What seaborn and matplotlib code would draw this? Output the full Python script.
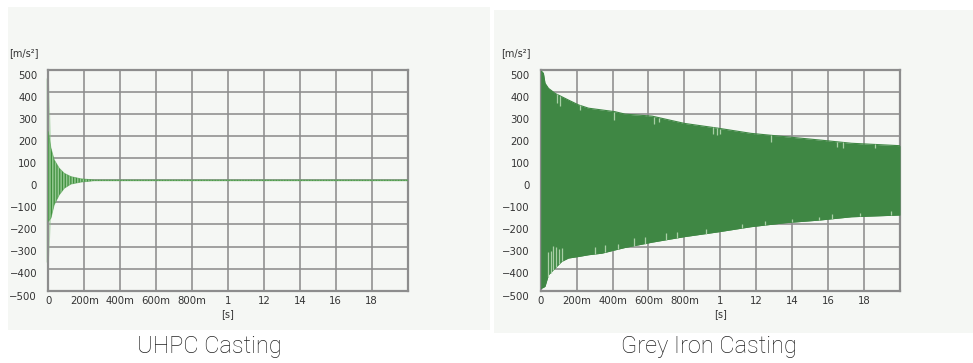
import numpy as np
import pandas as pd
import matplotlib
matplotlib.use("Agg")
import matplotlib.pyplot as plt
from matplotlib.patches import Rectangle
from matplotlib.transforms import ScaledTranslation
import seaborn as sns

sns.set_theme(style="white")
plt.rcParams["font.family"] = ["DejaVu Sans"]
plt.rcParams["hatch.linewidth"] = 0.9

# ---- data -------------------------------------------------------------
# UHPC casting: decay envelope of the acceleration signal [m/s^2] vs time [s]
uhpc_t = [0.0, 0.015, 0.033, 0.061, 0.089, 0.126, 0.182, 0.256, 0.40, 0.70, 1.0, 1.5, 2.0]
uhpc_upper = [221, 146, 93, 55, 32, 17, 7, 2, 2, 2, 2, 2, 2]
uhpc_lower = [-186, -171, -111, -66, -36, -17, -8, -2, -2, -2, -2, -2, -2]
# initial impact spike just before the trigger point
uhpc_spike_t = [-0.013, 0.0, 0.012]
uhpc_spike_upper = [464, 464, 200]
uhpc_spike_lower = [-370, -370, -180]

# Grey iron casting: decay envelope
iron_t = [0.0, 0.006, 0.015, 0.024, 0.043, 0.08, 0.117, 0.154, 0.21, 0.266, 0.34,
          0.414, 0.47, 0.62, 0.80, 0.99, 1.17, 1.36, 1.55, 1.73, 2.0]
iron_upper = [495, 493, 485, 440, 417, 394, 379, 364, 342, 327, 319,
              311, 300, 291, 258, 236, 213, 198, 183, 168, 157]
iron_lower = [-490, -488, -485, -480, -428, -397, -367, -352, -345, -337, -330,
              -315, -304, -280, -255, -233, -210, -192, -180, -165, -157]
# short dips into the band (individual low-amplitude cycles)
iron_notch_up_t = [0.09, 0.11, 0.22, 0.41, 0.63, 0.66, 0.96, 0.98, 1.0, 1.28, 1.65, 1.68, 1.86]
iron_notch_up_d = [40, 45, 20, 40, 35, 20, 30, 30, 25, 30, 25, 25, 15]
iron_notch_lo_t = [0.04, 0.055, 0.07, 0.085, 0.10, 0.12, 0.30, 0.36, 0.43, 0.52, 0.58,
                   0.70, 0.76, 0.92, 1.12, 1.25, 1.40, 1.55, 1.62, 1.78, 1.95]
iron_notch_lo_d = [110, 100, 110, 90, 70, 60, 30, 35, 25, 35, 30,
                   30, 25, 20, 20, 20, 15, 15, 20, 15, 20]

y_ticks = [500, 400, 300, 200, 100, 0, -100, -200, -300, -400, -500]
x_ticks = [0.0, 0.2, 0.4, 0.6, 0.8, 1.0, 1.2, 1.4, 1.6, 1.8, 2.0]
x_labels = ["0", "200m", "400m", "600m", "800m", "1", "12", "14", "16", "18", ""]
titles = ["UHPC Casting", "Grey Iron Casting"]

# ---- figure -----------------------------------------------------------
W, H = 973, 363
fig = plt.figure(figsize=(W / 100, H / 100), dpi=100)
fig.patch.set_facecolor("white")

panel_bg = "#f5f7f4"
fig.add_artist(Rectangle((8 / W, 1 - 330 / H), 482 / W, 323 / H,
                         transform=fig.transFigure, facecolor=panel_bg,
                         edgecolor="none", zorder=0))
fig.add_artist(Rectangle((494 / W, 1 - 333 / H), 479 / W, 323 / H,
                         transform=fig.transFigure, facecolor=panel_bg,
                         edgecolor="none", zorder=0))

grid_col = "#8d8d8d"
txt_col = "#333333"


def make_axes(left_px):
    ax = fig.add_axes([left_px / W, 1 - 290.7 / H, 359.3 / W, 220.7 / H])
    ax.set_facecolor(panel_bg)
    ax.set_xlim(0, 2.0)
    ax.set_ylim(-500, 500)
    ax.set_xticks(x_ticks)
    ax.set_xticklabels(x_labels)
    ax.set_yticks(y_ticks)
    ax.set_yticklabels([str(v).replace("-", "\u2212") for v in y_ticks])
    ax.grid(True, color=grid_col, linewidth=1.15)
    ax.set_axisbelow(True)
    for s in ax.spines.values():
        s.set_color(grid_col)
        s.set_linewidth(1.6)
    ax.tick_params(axis="both", length=0, labelsize=7.3, labelcolor=txt_col)
    ax.tick_params(axis="x", pad=3.5)
    ax.tick_params(axis="y", pad=8)
    off = ScaledTranslation(0, -3.5 / 72, fig.dpi_scale_trans)
    for lab in ax.get_yticklabels():
        lab.set_transform(lab.get_transform() + off)
    ax.text(1.0, -0.085, "[s]", transform=ax.get_xaxis_transform(),
            ha="center", va="top", fontsize=7, color=txt_col)
    ax.text(-0.109, 1.076, "[m/s\u00b2]", transform=ax.transAxes,
            ha="left", va="center", fontsize=7, color=txt_col)
    return ax


# UHPC panel
ax1 = make_axes(48.3)
spike = pd.DataFrame({"t": uhpc_spike_t, "up": uhpc_spike_upper, "lo": uhpc_spike_lower})
ax1.fill_between(spike["t"], spike["lo"], spike["up"], color="#8cc68a",
                 alpha=0.5, linewidth=0, clip_on=False, zorder=2)
uhpc = pd.DataFrame({"t": uhpc_t, "up": uhpc_upper, "lo": uhpc_lower})
ax1.fill_between(uhpc["t"], uhpc["lo"], uhpc["up"], facecolor="#93c890",
                 edgecolor="#3e8f3d", hatch="||||||", linewidth=0, zorder=3)
sns.lineplot(data=uhpc, x="t", y="up", ax=ax1, color="#4f9d4c", linewidth=0.6,
             alpha=0.6, zorder=3)
sns.lineplot(data=uhpc, x="t", y="lo", ax=ax1, color="#4f9d4c", linewidth=0.6,
             alpha=0.6, zorder=3)

# Grey iron panel
ax2 = make_axes(540.7)
iron = pd.DataFrame({"t": iron_t, "up": iron_upper, "lo": iron_lower})
iron_col = "#3f8744"
ax2.fill_between(iron["t"], iron["lo"], iron["up"], color=iron_col,
                 linewidth=0, zorder=3)
sns.lineplot(data=iron, x="t", y="up", ax=ax2, color=iron_col, linewidth=0.8, zorder=3)
sns.lineplot(data=iron, x="t", y="lo", ax=ax2, color=iron_col, linewidth=0.8, zorder=3)
notch_col = "#a9cfa6"
nu_top = np.interp(iron_notch_up_t, iron_t, iron_upper)
ax2.vlines(iron_notch_up_t, nu_top - np.array(iron_notch_up_d), nu_top,
           color=notch_col, linewidth=0.9, zorder=4)
nl_bot = np.interp(iron_notch_lo_t, iron_t, iron_lower)
ax2.vlines(iron_notch_lo_t, nl_bot, nl_bot + np.array(iron_notch_lo_d),
           color=notch_col, linewidth=0.9, zorder=4)

for ax in (ax1, ax2):
    ax.set_xlabel("")
    ax.set_ylabel("")

# captions under the panels
title_kw = dict(ha="center", va="center", fontsize=17, color="#222222",
                family=["Roboto", "DejaVu Sans"], fontweight="light")
fig.text(209 / W, 1 - 346.5 / H, titles[0], **title_kw)
fig.text(709 / W, 1 - 346.5 / H, titles[1], **title_kw)

fig.savefig("out.png", dpi=100, facecolor="white")
